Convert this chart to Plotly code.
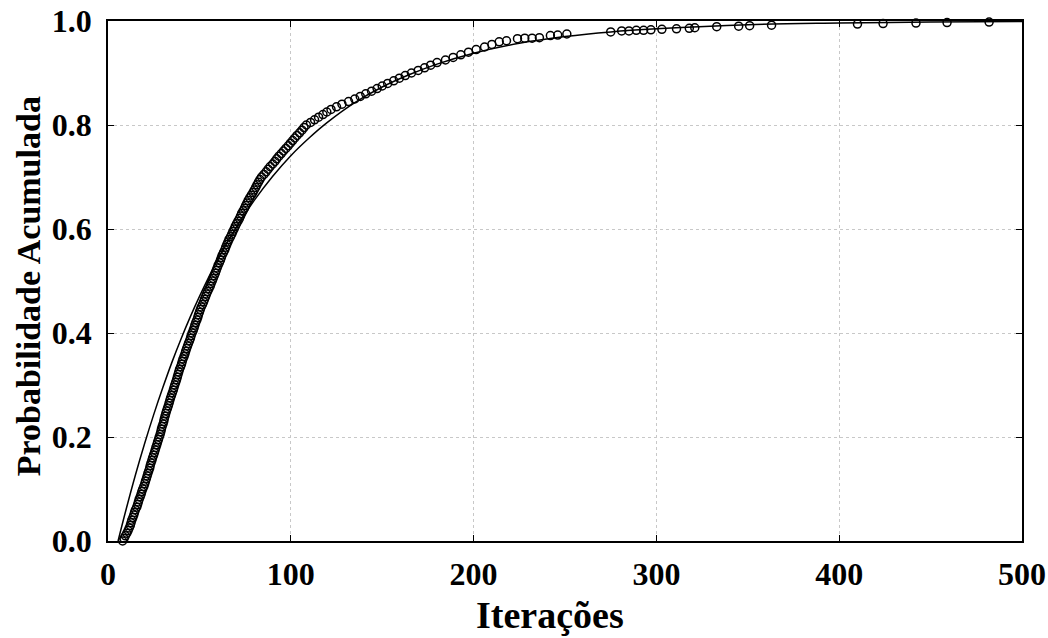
import plotly.graph_objects as go

emp_iter = [8, 8.8, 9.5, 10.3, 11, 11.6, 12.2, 12.6, 13, 13.6, 14.1, 14.5, 15, 15.7, 16.2,
            16.6, 17, 17.6, 18.1, 18.5, 19, 19.6, 20.1, 20.5, 21, 21.4, 21.8, 22.3, 22.8,
            23.1, 23.5, 24, 24.4, 24.9, 25.4, 25.8, 26.2, 26.7, 27.1, 27.6, 28, 28.5, 28.9,
            29.2, 29.6, 30.1, 30.5, 30.8, 31.2, 31.6, 32, 32.5, 33, 33.4, 33.8, 34.2, 34.7,
            35.2, 35.7, 36.1, 36.5, 37, 37.5, 37.9, 38.3, 38.7, 39.1, 39.7, 40.2, 40.6, 41,
            41.6, 42.1, 42.5, 43, 43.5, 44, 44.6, 45.1, 45.5, 46, 46.6, 47.1, 47.5, 48,
            48.6, 49.1, 49.5, 50, 50.5, 51, 51.7, 52.3, 52.8, 53.4, 53.9, 54.5, 55.2, 55.9,
            56.4, 57, 57.5, 58.1, 58.7, 59.2, 59.7, 60.2, 60.9, 61.5, 62, 62.5, 63.2, 63.9,
            64.4, 65, 65.6, 66.2, 67, 67.7, 68.3, 69, 69.6, 70.3, 71.1, 71.9, 72.5, 73.1,
            73.9, 74.7, 75.3, 76, 76.7, 77.5, 78.4, 79.3, 80, 80.8, 81.5, 82.3, 83.1, 84,
            85.3, 86.5, 87.6, 88.7, 90.1, 91.3, 92.3, 93.5, 94.8, 96, 97.3, 98.6, 99.8, 101,
            102.2, 103.4, 104.8, 106.1, 107.2, 108.5, 110.8, 113, 115.2, 117.6, 119.7, 122,
            125, 128, 131.6, 135, 138, 141, 144.2, 147.2, 150, 153, 156.3, 159.4, 162.6,
            166, 169.7, 173.2, 176.5, 180, 184.6, 188.8, 193, 197.2, 201.4, 206, 210, 214,
            218, 224, 228, 232, 236, 242, 246, 251, 275, 281, 285, 289, 293, 297, 303,
            311, 318, 321, 333, 345, 351, 363, 410, 424, 442, 459, 482]
emp_prob = [0.000, 0.005, 0.010, 0.015, 0.020, 0.025, 0.030, 0.035, 0.040, 0.045, 0.050,
            0.055, 0.060, 0.065, 0.070, 0.075, 0.080, 0.085, 0.090, 0.095, 0.100, 0.105,
            0.110, 0.115, 0.120, 0.125, 0.130, 0.135, 0.140, 0.145, 0.150, 0.155, 0.160,
            0.165, 0.170, 0.175, 0.180, 0.185, 0.190, 0.195, 0.200, 0.205, 0.210, 0.215,
            0.220, 0.225, 0.230, 0.235, 0.240, 0.245, 0.250, 0.255, 0.260, 0.265, 0.270,
            0.275, 0.280, 0.285, 0.290, 0.295, 0.300, 0.305, 0.310, 0.315, 0.320, 0.325,
            0.330, 0.335, 0.340, 0.345, 0.350, 0.355, 0.360, 0.365, 0.370, 0.375, 0.380,
            0.385, 0.390, 0.395, 0.400, 0.405, 0.410, 0.415, 0.420, 0.425, 0.430, 0.435,
            0.440, 0.445, 0.450, 0.455, 0.460, 0.465, 0.470, 0.475, 0.480, 0.485, 0.490,
            0.495, 0.500, 0.505, 0.510, 0.515, 0.520, 0.525, 0.530, 0.535, 0.540, 0.545,
            0.550, 0.555, 0.560, 0.565, 0.570, 0.575, 0.580, 0.585, 0.590, 0.595, 0.600,
            0.605, 0.610, 0.615, 0.620, 0.625, 0.630, 0.635, 0.640, 0.645, 0.650, 0.655,
            0.660, 0.665, 0.670, 0.675, 0.680, 0.685, 0.690, 0.695, 0.700, 0.705, 0.710,
            0.715, 0.720, 0.725, 0.730, 0.735, 0.740, 0.745, 0.750, 0.755, 0.760, 0.765,
            0.770, 0.775, 0.780, 0.785, 0.790, 0.795, 0.800, 0.805, 0.810, 0.815, 0.820,
            0.825, 0.830, 0.835, 0.840, 0.845, 0.850, 0.855, 0.860, 0.865, 0.870, 0.875,
            0.880, 0.885, 0.890, 0.895, 0.900, 0.905, 0.910, 0.915, 0.920, 0.925, 0.930,
            0.935, 0.940, 0.945, 0.950, 0.955, 0.960,
            0.962, 0.966, 0.967, 0.967, 0.968, 0.972, 0.973, 0.975, 0.979, 0.981, 0.981,
            0.982, 0.982, 0.983, 0.984, 0.985, 0.986, 0.987, 0.989, 0.990, 0.991, 0.992,
            0.994, 0.995, 0.996, 0.997, 0.998]

# Fitted (theoretical) cumulative curve
fit_iter = [5.5, 10, 15, 20, 25, 30, 35, 40, 45, 50, 60, 70, 80, 90, 100, 110, 120,
            135, 150, 165, 180, 200, 225, 250, 275, 300, 350, 400, 450, 500]
fit_prob = [0.0, 0.062, 0.127, 0.187, 0.243, 0.295, 0.344, 0.389, 0.431, 0.470, 0.541,
            0.602, 0.655, 0.701, 0.741, 0.775, 0.805, 0.843, 0.873, 0.897, 0.917, 0.938,
            0.957, 0.970, 0.979, 0.985, 0.993, 0.996, 0.998, 0.999]

x_ticks = [0, 100, 200, 300, 400, 500]
y_ticks = [0.0, 0.2, 0.4, 0.6, 0.8, 1.0]
y_tick_text = ["0.0", "0.2", "0.4", "0.6", "0.8", "1.0"]

FONT = "Liberation Serif"

fig = go.Figure()
fig.add_trace(go.Scatter(
    x=emp_iter, y=emp_prob, mode="markers",
    marker=dict(symbol="circle-open", size=8, color="black", line=dict(width=1.5, color="black")),
    showlegend=False, cliponaxis=False))
fig.add_trace(go.Scatter(
    x=fit_iter, y=fit_prob, mode="lines", line=dict(color="black", width=1.5, shape="spline"),
    showlegend=False))

axis_common = dict(
    showline=True, linecolor="black", linewidth=1.5, mirror="ticks",
    ticks="inside", ticklen=6, tickcolor="black", tickwidth=1,
    showgrid=True, gridcolor="#c8c8c8", griddash="dot", gridwidth=1,
    zeroline=False,
    tickfont=dict(family=FONT, size=32, color="black", weight="bold"),
)

fig.update_xaxes(range=[0, 500], tickvals=x_ticks, ticktext=[str(v) for v in x_ticks],
                 ticklabelstandoff=4, **axis_common)
fig.update_yaxes(range=[0, 1.0], tickvals=y_ticks, ticktext=y_tick_text,
                 ticklabelstandoff=8, **axis_common)

fig.add_annotation(text="Probabilidade Acumulada", xref="paper", yref="paper",
                   x=0, y=0.49, xshift=-80, xanchor="center", yanchor="middle",
                   textangle=-90, showarrow=False,
                   font=dict(family=FONT, size=34, color="black", weight="bold"))
fig.add_annotation(text="Iterações", xref="paper", yref="paper",
                   x=0.4836, y=0, yshift=-74, xanchor="center", yanchor="middle",
                   showarrow=False,
                   font=dict(family=FONT, size=38, color="black", weight="bold"))

fig.update_layout(
    width=1048, height=638,
    margin=dict(l=108, r=26, t=21, b=97, autoexpand=False),
    paper_bgcolor="white", plot_bgcolor="white",
)

fig.write_html("out.html")
